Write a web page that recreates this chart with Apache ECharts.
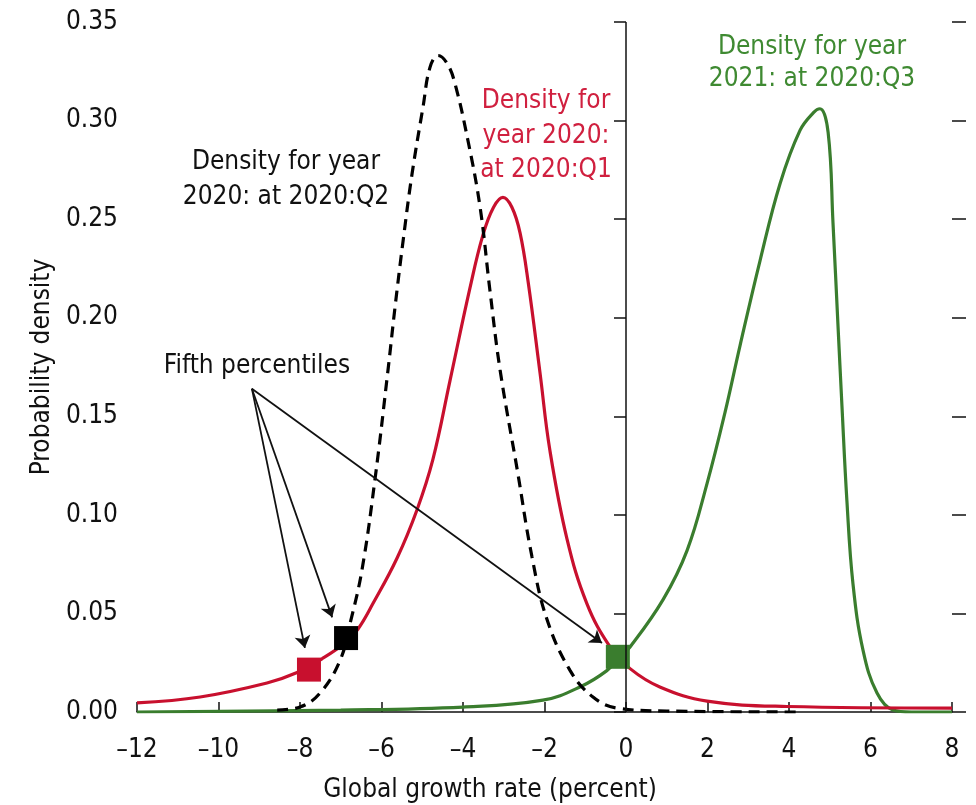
<!DOCTYPE html>
<html>
<head>
<meta charset="utf-8">
<script src="https://cdn.jsdelivr.net/npm/echarts@6/dist/echarts.min.js"></script>
<style>
  html, body { margin: 0; padding: 0; background: #fff; }
  #chart { width: 976px; height: 805px; }
</style>
</head>
<body>
<div id="chart"></div>
<script>
// density for year 2020 at 2020:Q1 (red)
var redX = [-12, -10.45, -8.81, -8.07, -7.46, -6.9, -6.58, -6.21, -5.62, -5.13, -4.74, -4.32, -3.83, -3.51, -3.25, -3.02, -2.80, -2.60, -2.40, -2.11, -1.87, -1.45, -0.96, -0.39, 0.1, 0.83, 1.99, 3.95, 8];
var redY = [0.0046, 0.0076, 0.0147, 0.020, 0.027, 0.035, 0.042, 0.055, 0.078, 0.1025, 0.128, 0.168, 0.215, 0.242, 0.256, 0.261, 0.256, 0.243, 0.218, 0.172, 0.133, 0.088, 0.055, 0.033, 0.022, 0.0127, 0.0055, 0.0028, 0.002];
// density for year 2020 at 2020:Q2 (black dashed)
var blackX = [-8.56, -8.0, -7.51, -7.02, -6.77, -6.48, -6.16, -5.84, -5.67, -5.47, -5.25, -4.98, -4.81, -4.61, -4.39, -4.20, -3.88, -3.58, -3.34, -3.09, -2.67, -2.31, -1.94, -1.37, -0.81, -0.22, 1, 4.3];
var blackY = [0.001, 0.0025, 0.0096, 0.026, 0.045, 0.072, 0.118, 0.1735, 0.205, 0.239, 0.273, 0.307, 0.327, 0.333, 0.329, 0.319, 0.290, 0.256, 0.214, 0.1735, 0.123, 0.079, 0.047, 0.021, 0.0076, 0.002, 0.0005, 0];
// density for year 2021 at 2020:Q3 (green)
var greenX = [-12, -7.0, -4.0, -2.04, -1.13, -0.47, -0.15, 0.1, 0.91, 1.50, 1.99, 2.43, 2.80, 3.29, 3.78, 4.27, 4.60, 4.76, 4.96, 5.08, 5.20, 5.30, 5.42, 5.57, 5.82, 6.16, 6.55, 7.0, 8];
var greenY = [0, 0.001, 0.0025, 0.006, 0.0127, 0.021, 0.028, 0.033, 0.057, 0.082, 0.116, 0.152, 0.186, 0.229, 0.268, 0.295, 0.304, 0.306, 0.294, 0.248, 0.197, 0.155, 0.1075, 0.065, 0.031, 0.0096, 0.001, 0, 0];
// fifth percentiles: red, black, green
var pctX = [-7.78, -6.87, -0.2];
var pctY = [0.0215, 0.0375, 0.028];
var pctColors = ['#c8102e', '#000000', '#3a7d2e'];
// arrows from the "Fifth percentiles" label (data coords)
var arrowFrom = [-9.18, 0.164];
var arrowTo = [[-7.88, 0.0325], [-7.21, 0.048], [-0.59, 0.035]];

var RED = '#c8102e', GREEN = '#3a7d2e';
var FONT = "'Liberation Sans Narrow', 'Arial Narrow', 'DejaVu Sans Condensed', sans-serif";
var FS = 26;

function zip(xs, ys) {
  return xs.map(function (x, i) { return [x, ys[i]]; });
}

var chart = echarts.init(document.getElementById('chart'));

var option = {
  animation: false,
  textStyle: { fontFamily: FONT },
  grid: { left: 137, right: 24, top: 22, bottom: 93 },
  xAxis: {
    type: 'value', min: -12, max: 8, interval: 2,
    axisLine: { show: true, lineStyle: { color: '#111', width: 1.5 } },
    axisTick: { show: true, inside: true, length: 10, lineStyle: { color: '#111', width: 1.5 } },
    splitLine: { show: false },
    axisLabel: {
      fontSize: FS, color: '#111', fontFamily: FONT, margin: 25,
      formatter: function (v) { return String(v).replace('-', '\u2013'); }
    }
  },
  yAxis: [{
    type: 'value', min: 0, max: 0.35, interval: 0.05,
    name: 'Probability density', nameLocation: 'middle', nameGap: 80,
    nameTextStyle: { fontSize: FS, color: '#111', fontFamily: FONT },
    axisLine: { show: false },
    axisTick: { show: true, length: 12, lineStyle: { color: '#111', width: 1.5 } },
    splitLine: { show: false },
    axisLabel: {
      fontSize: FS, color: '#111', fontFamily: FONT, margin: 19,
      formatter: function (v) { return v.toFixed(2); }
    }
  }, {
    type: 'value', min: 0, max: 0.35, interval: 0.05, position: 'right',
    axisLine: { show: false },
    axisTick: { show: true, length: 14, lineStyle: { color: '#111', width: 1.5 } },
    axisLabel: { show: false },
    splitLine: { show: false }
  }],
  series: [
    {
      type: 'line', data: zip(greenX, greenY), symbol: 'none', smooth: 0.4,
      lineStyle: { color: GREEN, width: 3.2 }
    },
    {
      type: 'line', data: zip(redX, redY), symbol: 'none', smooth: 0.4,
      lineStyle: { color: RED, width: 3.2 }
    },
    {
      type: 'line', data: zip(blackX, blackY), symbol: 'none', smooth: 0.4,
      lineStyle: { color: '#000', width: 3.2, type: [11, 7] },
      markLine: {
        silent: true, symbol: 'none', label: { show: false },
        lineStyle: { color: '#111', width: 1.5, type: 'solid' },
        data: [{ xAxis: 0 }]
      }
    },
    {
      type: 'scatter', symbol: 'rect', symbolSize: 24, z: 4,
      data: pctX.map(function (x, i) {
        return { value: [x, pctY[i]], itemStyle: { color: pctColors[i], opacity: 1 } };
      }),
      markLine: {
        silent: true, symbol: ['none', 'arrow'], symbolSize: 12,
        label: { show: false },
        lineStyle: { color: '#111', width: 1.8, type: 'solid' },
        data: arrowTo.map(function (p) {
          return [{ coord: arrowFrom }, { coord: p }];
        })
      }
    }
  ],
  graphic: [
    {
      type: 'text', x: 286, y: 180,
      style: {
        text: 'Density for year\n2020: at 2020:Q2', fill: '#111', font: FS + 'px ' + FONT,
        textAlign: 'center', textVerticalAlign: 'middle', lineHeight: 35
      }
    },
    {
      type: 'text', x: 546, y: 136,
      style: {
        text: 'Density for\nyear 2020:\nat 2020:Q1', fill: '#d0203f', font: FS + 'px ' + FONT,
        textAlign: 'center', textVerticalAlign: 'middle', lineHeight: 34.5
      }
    },
    {
      type: 'text', x: 812, y: 63,
      style: {
        text: 'Density for year\n2021: at 2020:Q3', fill: '#3f8a32', font: FS + 'px ' + FONT,
        textAlign: 'center', textVerticalAlign: 'middle', lineHeight: 32
      }
    },
    {
      type: 'text', x: 257, y: 366,
      style: {
        text: 'Fifth percentiles', fill: '#111', font: FS + 'px ' + FONT,
        textAlign: 'center', textVerticalAlign: 'middle'
      }
    },
    {
      type: 'text', x: 490, y: 790,
      style: {
        text: 'Global growth rate (percent)', fill: '#111', font: FS + 'px ' + FONT,
        textAlign: 'center', textVerticalAlign: 'middle'
      }
    }
  ]
};

chart.setOption(option);
</script>
</body>
</html>
